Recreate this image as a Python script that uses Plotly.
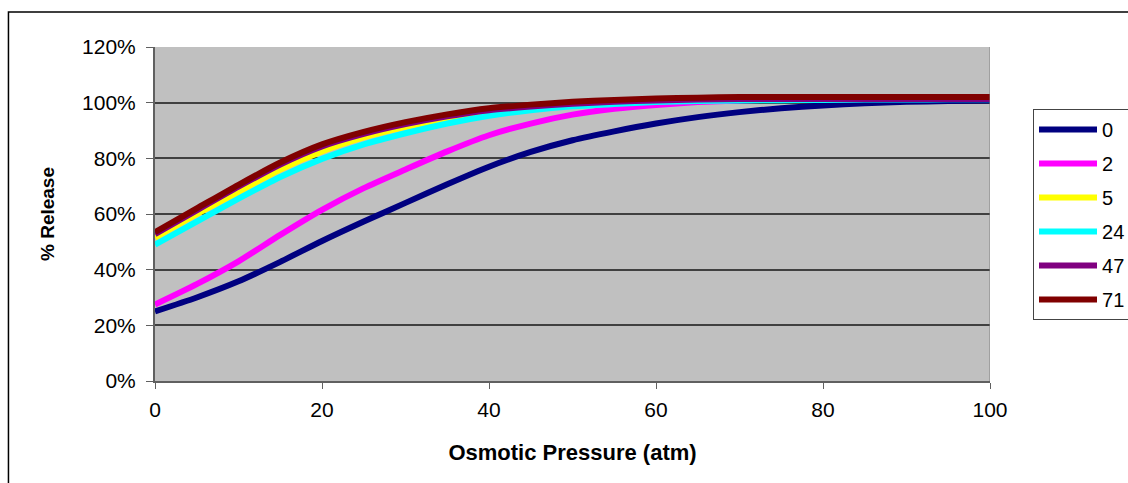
import plotly.graph_objects as go

pressure = [0, 5, 10, 15, 20, 25, 30, 35, 40, 45, 50, 55, 60, 65, 70, 75, 80, 85, 90, 95, 100]

series_names = ["0", "2", "5", "24", "47", "71"]

rel_0 = [25.0, 30.0, 35.8, 42.8, 50.3, 57.3, 64.0, 70.7, 77.0, 82.3, 86.5, 89.7, 92.5, 94.8, 96.6, 98.0, 99.0, 99.8, 100.3, 100.6, 100.8]
rel_2 = [27.5, 34.8, 43.0, 52.5, 61.5, 69.3, 76.0, 82.5, 88.3, 92.5, 95.7, 97.8, 99.2, 100.2, 100.8, 101.1, 101.2, 101.3, 101.4, 101.5, 101.5]
rel_5 = [51.5, 60.0, 68.0, 76.0, 82.5, 87.5, 91.3, 94.3, 96.5, 98.0, 99.2, 100.0, 100.6, 101.0, 101.2, 101.4, 101.5, 101.6, 101.6, 101.7, 101.7]
rel_24 = [49.0, 57.3, 65.5, 73.3, 79.8, 85.0, 89.0, 92.5, 95.3, 97.3, 98.7, 99.5, 100.2, 100.6, 100.8, 100.9, 101.0, 101.1, 101.1, 101.2, 101.2]
rel_47 = [52.8, 61.3, 69.8, 77.8, 84.3, 88.8, 92.3, 95.1, 97.3, 98.6, 99.6, 100.3, 100.8, 101.1, 101.3, 101.3, 101.3, 101.3, 101.3, 101.3, 101.3]
rel_71 = [53.5, 62.0, 70.5, 78.5, 85.0, 89.5, 93.0, 95.8, 98.0, 99.3, 100.3, 101.0, 101.5, 101.8, 102.0, 102.0, 102.0, 102.0, 102.0, 102.0, 102.0]

colors = ["#000080", "#FF00FF", "#FFFF00", "#00FFFF", "#800080", "#800000"]

x_ticks = [0, 20, 40, 60, 80, 100]
y_ticks = [0, 20, 40, 60, 80, 100, 120]

FONT = "Liberation Sans, Arial, sans-serif"

fig = go.Figure()
for name, vals, col in zip(series_names, [rel_0, rel_2, rel_5, rel_24, rel_47, rel_71], colors):
    fig.add_trace(go.Scatter(
        x=pressure, y=vals, name=name, mode="lines",
        line=dict(color=col, width=6, shape="spline", smoothing=0.7),
        legendgroup=name,
    ))

fig.update_layout(
    width=1128, height=483,
    margin=dict(l=155, r=138, t=47, b=102, autoexpand=False),
    paper_bgcolor="white",
    plot_bgcolor="#C0C0C0",
    font=dict(family=FONT, color="black", size=21),
    showlegend=True,
    legend=dict(
        x=1.0515, y=0.814, xanchor="left", yanchor="top",
        bgcolor="white", bordercolor="#444444", borderwidth=1,
        font=dict(family=FONT, size=20, color="black"),
        itemwidth=58, tracegroupgap=5,
        traceorder="grouped",
    ),
    xaxis=dict(
        range=[0, 100], tickvals=x_ticks, ticktext=[str(v) for v in x_ticks],
        showgrid=False, zeroline=False,
        showline=True, linecolor="#606060", linewidth=2, mirror=False,
        ticks="outside", ticklen=6, tickcolor="#606060", tickwidth=1,
        tickfont=dict(family=FONT, size=21),
        ticklabelstandoff=3,
        title=dict(text="<b>Osmotic Pressure (atm)</b>", font=dict(family=FONT, size=22), standoff=24),
    ),
    yaxis=dict(
        range=[0, 120], tickvals=y_ticks, ticktext=[f"{v}%" for v in y_ticks],
        showgrid=True, gridcolor="#404040", gridwidth=1.5,
        zeroline=False,
        showline=True, linecolor="#606060", linewidth=2, mirror=False,
        ticks="outside", ticklen=7, tickcolor="#606060", tickwidth=1,
        tickfont=dict(family=FONT, size=21),
        ticklabelstandoff=6,
        title=dict(text="<b>% Release</b>", font=dict(family=FONT, size=19), standoff=22),
    ),
    shapes=[
        dict(type="line", xref="x", yref="paper", x0=100, x1=100, y0=0, y1=1,
             line=dict(color="#808080", width=1)),
        dict(type="rect", xref="paper", yref="paper",
             x0=-0.1755, x1=1.2, y0=-0.33, y1=1.105,
             line=dict(color="black", width=1.5), fillcolor="rgba(0,0,0,0)", layer="below"),
    ],
)

fig.write_html("out.html")
